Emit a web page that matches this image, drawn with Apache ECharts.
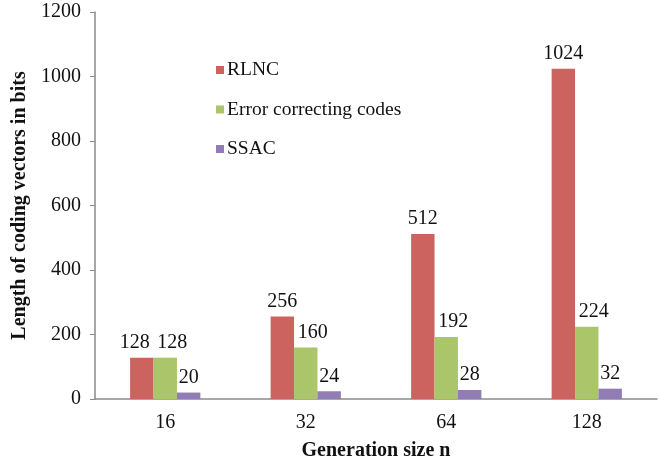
<!DOCTYPE html>
<html><head><meta charset="utf-8">
<script src="https://cdn.jsdelivr.net/npm/echarts@6/dist/echarts.min.js"></script>
<style>html,body{margin:0;padding:0;background:#fff}#c{width:665px;height:465px}</style>
</head><body><div id="c"></div>
<script>
const categories = ['16', '32', '64', '128'];
const rlnc = [128, 256, 512, 1024];
const ecc = [128, 160, 192, 224];
const ssac = [20, 24, 28, 32];
const seriesNames = ['RLNC', 'Error correcting codes', 'SSAC'];
const yTicks = {min: 0, max: 1200, interval: 200};

const font = '"Liberation Serif", "Times New Roman", serif';
const colors = ['#CD635E', '#ABC56B', '#927CB5'];
const chart = echarts.init(document.getElementById('c'));
const lbl = (dx) => ({show: true, position: 'top', distance: 5, offset: [dx, 0], color: '#111', fontFamily: font, fontSize: 20});
// first RLNC label is nudged left to avoid colliding with its neighbour, as in the original
const rlncData = rlnc.map((v, i) => i === 0 ? {value: v, label: {offset: [-7, 0]}} : v);
chart.setOption({
  animation: false,
  color: colors,
  grid: {left: 95, right: 8, top: 12, bottom: 66, outerBoundsMode: 'none', containLabel: false},
  legend: {
    orient: 'vertical', left: 211, top: 55, itemWidth: 8, itemHeight: 8, itemGap: 19.5,
    icon: 'rect',
    textStyle: {fontFamily: font, fontSize: 19.5, color: '#111', padding: [0, 0, 0, -2]},
    data: seriesNames
  },
  xAxis: {
    type: 'category', data: categories,
    name: 'Generation size n', nameLocation: 'middle', nameGap: 42,
    nameTextStyle: {fontFamily: font, fontSize: 20, fontWeight: 'bold', color: '#111'},
    axisLine: {lineStyle: {color: '#8a8a8a', width: 1.5}},
    axisTick: {show: false},
    axisLabel: {fontFamily: font, fontSize: 20, color: '#111', margin: 14}
  },
  yAxis: {
    type: 'value', min: yTicks.min, max: yTicks.max, interval: yTicks.interval,
    name: 'Length of coding vectors in bits', nameLocation: 'middle', nameGap: 58,
    nameTextStyle: {fontFamily: font, fontSize: 20, fontWeight: 'bold', color: '#111'},
    axisLine: {show: true, lineStyle: {color: '#8a8a8a', width: 1.5}},
    axisTick: {show: true, length: 5, lineStyle: {color: '#8a8a8a'}},
    splitLine: {show: false},
    axisLabel: {fontFamily: font, fontSize: 20, color: '#111', margin: 14, formatter: v => String(v)}
  },
  series: [
    {name: seriesNames[0], type: 'bar', data: rlncData, barGap: '0%', barCategoryGap: '50%', label: lbl(0)},
    {name: seriesNames[1], type: 'bar', data: ecc, label: lbl(7)},
    {name: seriesNames[2], type: 'bar', data: ssac, label: lbl(0)}
  ]
});
</script></body></html>
